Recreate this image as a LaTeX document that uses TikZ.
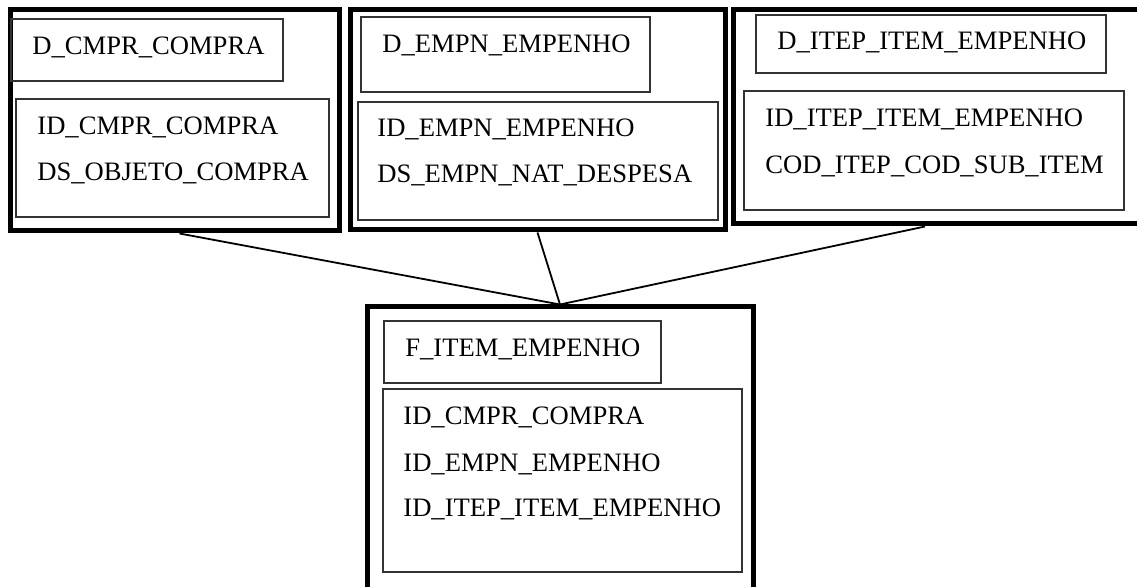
\documentclass[tikz,border=0pt]{standalone}
\usepackage{fontspec}
\setmainfont{Liberation Serif}
\usetikzlibrary{fit}
\begin{document}
\begin{tikzpicture}[x=0.5pt,y=-0.5pt,
  tabela/.style={draw,line width=2.5pt,inner sep=0pt},
  caixa/.style={draw=black!80,line width=0.7pt,inner sep=0pt},
  campo/.style={anchor=base west,inner sep=0pt,font=\fontsize{13.3}{15}\selectfont},
  liga/.style={line width=0.9pt}]
\useasboundingbox(0,0)rectangle(1137,587);
\clip(0,0)rectangle(1137,587);
% dimensoes
\node[tabela,fit={(10,10)(339,231)}](d1){};
\node[caixa,fit={(11,19)(283,81)}](d1t){};
\node[caixa,fit={(16,99)(329,217)}](d1c){};
\node[campo](d1n)at(32,55){D\_CMPR\_COMPRA};
\node[campo](d1a)at(37,135){ID\_CMPR\_COMPRA};
\node[campo](d1b)at(37,181){DS\_OBJETO\_COMPRA};
\node[tabela,fit={(350,10)(725,230)}](d2){};
\node[caixa,fit={(361,17)(650,92)}](d2t){};
\node[caixa,fit={(358,102)(718,220)}](d2c){};
\node[campo](d2n)at(382,53){D\_EMPN\_EMPENHO};
\node[campo](d2a)at(377,137){ID\_EMPN\_EMPENHO};
\node[campo](d2b)at(377,183){DS\_EMPN\_NAT\_DESPESA};
\node[tabela,fit={(733,10)(1145,224)}](d3){};
\node[caixa,fit={(756,15)(1106,73)}](d3t){};
\node[caixa,fit={(744,91)(1124,210)}](d3c){};
\node[campo](d3n)at(777,50){D\_ITEP\_ITEM\_EMPENHO};
\node[campo](d3a)at(765,127){ID\_ITEP\_ITEM\_EMPENHO};
\node[campo](d3b)at(765,174){COD\_ITEP\_COD\_SUB\_ITEM};
% fato
\node[tabela,fit={(367,307)(753,600)}](f){};
\node[caixa,fit={(384,321)(661,383)}](ft){};
\node[caixa,fit={(383,389)(742,572)}](fc){};
\node[campo](fn)at(405,357){F\_ITEM\_EMPENHO};
\node[campo](fa)at(403,425){ID\_CMPR\_COMPRA};
\node[campo](fb)at(403,472){ID\_EMPN\_EMPENHO};
\node[campo](fd)at(403,517){ID\_ITEP\_ITEM\_EMPENHO};
\draw[liga]([xshift=2.5pt]d1.south)--(f.north);
\draw[liga](d2.south)--(f.north);
\draw[liga]([xshift=-7pt]d3.south)--(f.north);
\end{tikzpicture}
\end{document}
